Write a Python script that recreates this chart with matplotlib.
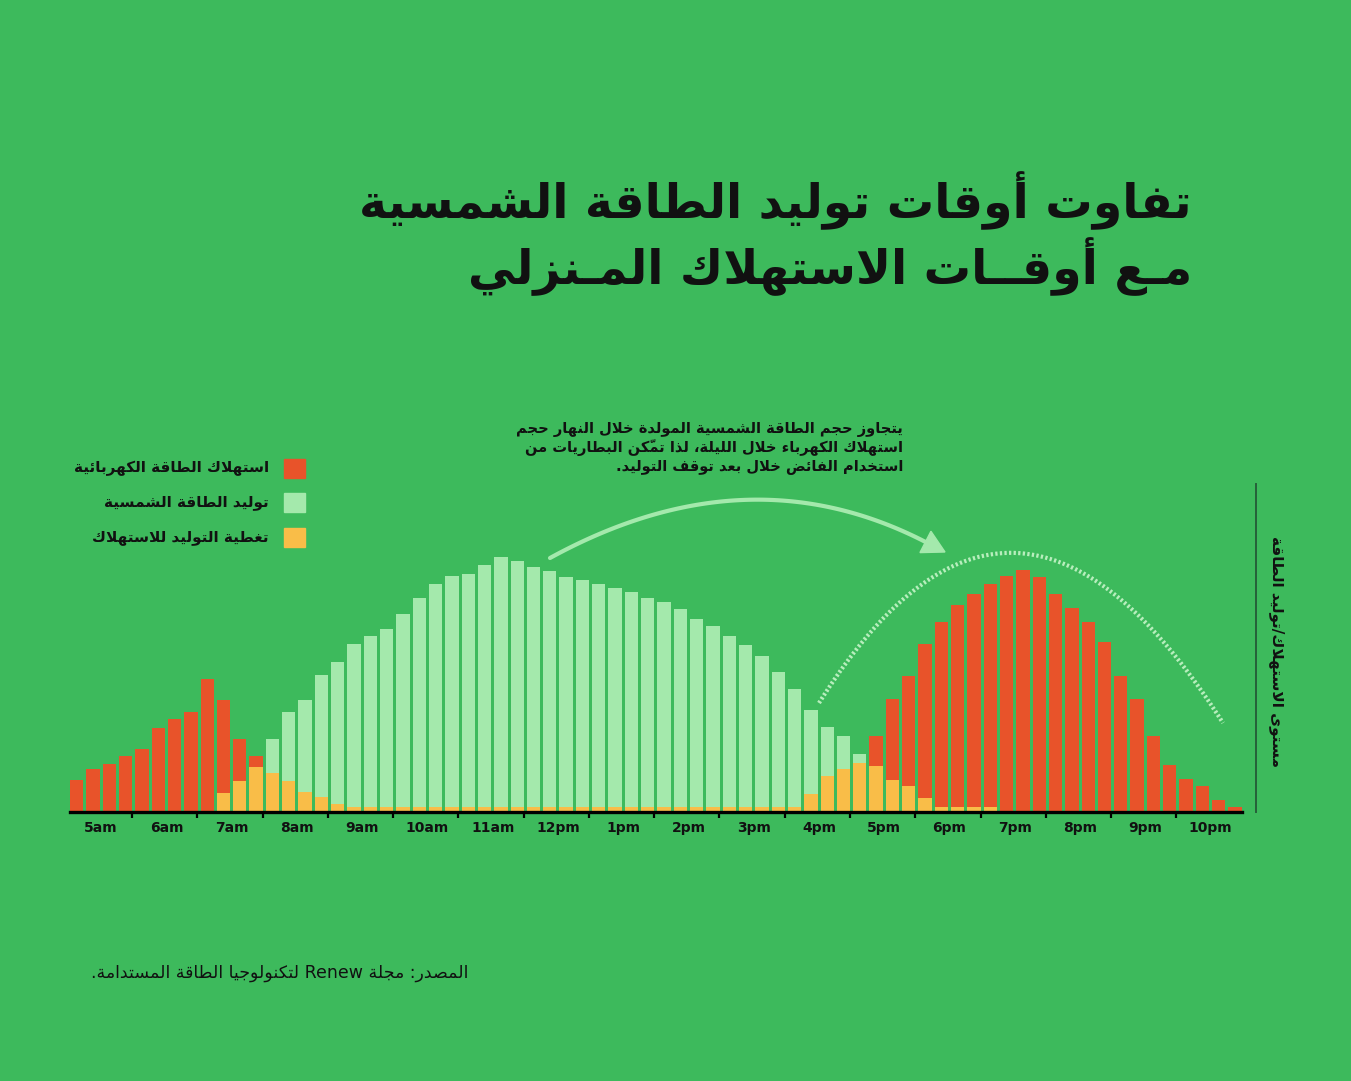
import numpy as np
import matplotlib.pyplot as plt
from matplotlib.patches import Rectangle, Polygon

# 15-minute slots from 5:00am to 10:45pm (72 bars)
hour_labels = ['5am', '6am', '7am', '8am', '9am', '10am', '11am', '12pm', '1pm',
               '2pm', '3pm', '4pm', '5pm', '6pm', '7pm', '8pm', '9pm', '10pm']

consumption = [31, 42, 47, 55, 62, 83, 92, 99,
               132, 111, 72, 55, 38, 30, 19, 14,
               7, 4, 4, 4, 4, 4, 4, 4,
               4, 4, 4, 4, 4, 4, 4, 4, 4, 4, 4, 4, 4, 4, 4, 4, 4, 4, 4, 4,
               4, 17, 35, 42,
               48, 75, 112, 135,
               167, 189, 206, 217,
               227, 235, 241, 234,
               217, 203, 189, 169,
               135, 112, 75, 46,
               32, 25, 11, 4]

generation = [0, 0, 0, 0, 0, 0, 0, 0,
              0, 18, 30, 44, 72, 99, 111, 136,
              149, 167, 175, 182, 197, 213, 227, 235,
              237, 246, 254, 250, 244, 240, 234, 231,
              227, 223, 219, 213, 209, 202, 192, 185,
              175, 166, 155, 139, 122, 101, 84, 75,
              57, 45, 31, 25, 13, 4, 4, 4,
              4, 0, 0, 0, 0, 0, 0, 0,
              0, 0, 0, 0, 0, 0, 0, 0]

title_1 = 'تفاوت أوقات توليد الطاقة الشمسية'
title_2 = 'مـع أوقــات الاستهلاك المـنزلي'
legend_labels = ['استهلاك الطاقة الكهربائية', 'توليد الطاقة الشمسية', 'تغطية التوليد للاستهلاك']
note_lines = ['يتجاوز حجم الطاقة الشمسية المولدة خلال النهار حجم',
              'استهلاك الكهرباء خلال الليلة، لذا تمكّن البطاريات من',
              'استخدام الفائض خلال بعد توقف التوليد.']
y_title = 'مستوى الاستهلاك/توليد الطاقة'
source = 'المصدر: مجلة Renew لتكنولوجيا الطاقة المستدامة.'

BG = '#3dba5c'
RED = '#e8532a'
LGREEN = '#a4e9ac'
YELLOW = '#f9bd48'
DARK = '#26613a'
INK = '#111111'

# ---- minimal arabic shaping (matplotlib has no complex text layout) ----
DUAL = {'ئ': 0xFE89, 'ب': 0xFE8F, 'ت': 0xFE95, 'ث': 0xFE99, 'ج': 0xFE9D, 'ح': 0xFEA1,
        'خ': 0xFEA5, 'س': 0xFEB1, 'ش': 0xFEB5, 'ص': 0xFEB9, 'ض': 0xFEBD, 'ط': 0xFEC1,
        'ظ': 0xFEC5, 'ع': 0xFEC9, 'غ': 0xFECD, 'ف': 0xFED1, 'ق': 0xFED5, 'ك': 0xFED9,
        'ل': 0xFEDD, 'م': 0xFEE1, 'ن': 0xFEE5, 'ه': 0xFEE9, 'ي': 0xFEF1}
RIGHT = {'آ': 0xFE81, 'أ': 0xFE83, 'ؤ': 0xFE85, 'إ': 0xFE87, 'ا': 0xFE8D, 'ة': 0xFE93,
         'د': 0xFEA9, 'ذ': 0xFEAB, 'ر': 0xFEAD, 'ز': 0xFEAF, 'و': 0xFEED, 'ى': 0xFEEF}
LAM_ALEF = {'آ': 0xFEF5, 'أ': 0xFEF7, 'إ': 0xFEF9, 'ا': 0xFEFB}


def is_mark(c):
    return len(c) == 1 and ('\u064B' <= c <= '\u065F' or c == '\u0670')


def jtype(tok):
    if len(tok) == 2:
        return 'R'
    if tok in DUAL or tok == 'ـ':
        return 'D'
    if tok in RIGHT:
        return 'R'
    if is_mark(tok):
        return 'T'
    return 'U'


def shape(text):
    toks = []
    i = 0
    while i < len(text):
        if text[i] == 'ل' and i + 1 < len(text) and text[i + 1] in LAM_ALEF:
            toks.append(text[i:i + 2])
            i += 2
        else:
            toks.append(text[i])
            i += 1
    types = [jtype(t) for t in toks]
    out = []
    for i, t in enumerate(toks):
        ty = types[i]
        if ty in ('U', 'T') or t == 'ـ':
            out.append(t)
            continue
        p = i - 1
        while p >= 0 and types[p] == 'T':
            p -= 1
        n = i + 1
        while n < len(toks) and types[n] == 'T':
            n += 1
        prev_j = p >= 0 and types[p] == 'D'
        next_j = ty == 'D' and n < len(toks) and types[n] in ('D', 'R')
        if len(t) == 2:
            base = LAM_ALEF[t[1]]
        elif ty == 'D':
            base = DUAL[t]
        else:
            base = RIGHT[t]
        off = 3 if (prev_j and next_j) else 1 if prev_j else 2 if next_j else 0
        out.append(chr(base + off))
    return out


def rtl(text):
    clusters = []
    for g in shape(text):
        if clusters and is_mark(g):
            clusters[-1] += g
        else:
            clusters.append(g)
    runs = []
    for c in clusters:
        ltr = c[0].isascii() and c[0].isalnum()
        if runs and runs[-1][0] == ltr:
            runs[-1][1].append(c)
        else:
            runs.append([ltr, [c]])
    return ''.join(''.join(cl if ltr else cl[::-1]) for ltr, cl in reversed(runs))


plt.rcParams['font.family'] = ['DejaVu Sans']

W, H = 1351, 1081
fig = plt.figure(figsize=(W / 100, H / 100), dpi=100, facecolor=BG)

# overlay in pixel coordinates for titles / notes
ov = fig.add_axes([0, 0, 1, 1])
ov.set_xlim(0, W)
ov.set_ylim(H, 0)
ov.axis('off')
ov.set_facecolor('none')

ax = fig.add_axes([70 / W, (H - 812.4) / H, 1171.7 / W, 300 / H])
ax.set_facecolor('none')

cons = np.array(consumption)
gen = np.array(generation)
x = np.arange(len(cons))
top = np.maximum(cons, gen)
covered = np.minimum(cons, gen)
colors = np.where(gen > cons, LGREEN, RED)

ax.bar(x, top, width=0.816, color=colors, zorder=2)
ax.bar(x, covered, width=0.816, color=YELLOW, zorder=3)

ax.set_xlim(-0.408, 71.408)
ax.set_ylim(-1.7, 298.3)
for s in ['top', 'left', 'right']:
    ax.spines[s].set_visible(False)
ax.spines['bottom'].set_linewidth(2.4)
ax.spines['bottom'].set_color('black')
ax.spines['bottom'].set_zorder(5)
ax.set_yticks([])
ax.set_xticks(np.arange(3.4, 71, 4), labels=[])
ax.set_xticks(np.arange(1.5, 72, 4), labels=hour_labels, minor=True)
ax.tick_params(which='major', length=4.5, width=1.6, direction='out', color='black')
ax.tick_params(which='minor', length=0, pad=6.5, labelsize=10, labelcolor=INK)
for lab in ax.get_xticklabels(minor=True):
    lab.set_fontweight('bold')

# title
ov.text(1192, 218, rtl(title_1), ha='right', va='baseline', fontsize=34,
        fontweight='bold', color=INK)
ov.text(1192, 284, rtl(title_2), ha='right', va='baseline', fontsize=34,
        fontweight='bold', color=INK)

# legend
for lab, col, yb in zip(legend_labels, [RED, LGREEN, YELLOW], [472, 506, 541]):
    ov.add_patch(Rectangle((284, yb - 13), 21, 19, color=col))
    ov.text(269, yb, rtl(lab), ha='right', va='baseline', fontsize=11,
            fontweight='bold', color=INK)

# note
for line, yb in zip(note_lines, [433, 452, 470]):
    ov.text(903, yb, rtl(line), ha='right', va='baseline', fontsize=10.5,
            fontweight='bold', color=INK)

# solid arrow arc
p0, c, p2 = np.array([550, 558]), np.array([747, 450]), np.array([945, 552])
d = (p2 - c) / np.linalg.norm(p2 - c)
nrm = np.array([-d[1], d[0]])
end = p2 - d * 22
t = np.linspace(0, 1, 80)[:, None]
curve = (1 - t) ** 2 * p0 + 2 * t * (1 - t) * c + t ** 2 * end
ov.plot(curve[:, 0], curve[:, 1], color=LGREEN, lw=3, solid_capstyle='round')
ov.add_patch(Polygon([p2, end + nrm * 12, end - nrm * 12], closed=True, color=LGREEN))

# dotted arc over the evening consumption
q0, qc, q2 = np.array([819, 703]), np.array([1013, 393]), np.array([1223, 723])
curve2 = (1 - t) ** 2 * q0 + 2 * t * (1 - t) * qc + t ** 2 * q2
ov.plot(curve2[:, 0], curve2[:, 1], color='#b8eebd', lw=3, ls=(0, (0.55, 0.55)),
        solid_capstyle='butt', dash_capstyle='butt')

# right axis line + label
ov.plot([1256, 1256], [484, 812], color=DARK, lw=1.4)
ov.text(1277, 652, rtl(y_title), rotation=270, ha='center', va='center', fontsize=11,
        fontweight='bold', color=INK)

# source
ov.text(468, 978, rtl(source), ha='right', va='baseline', fontsize=12.5, color=INK)

fig.savefig('out.png', dpi=100, facecolor=BG)
